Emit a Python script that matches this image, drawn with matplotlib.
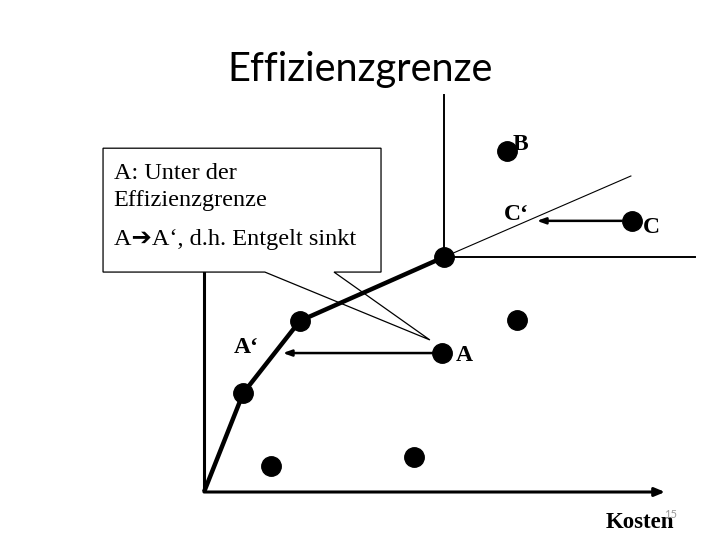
import matplotlib
matplotlib.use("Agg")
import matplotlib.pyplot as plt
from matplotlib.patches import Polygon

# ---- data (Kosten on x, Leistung on y, arbitrary units) ----
frontier_x = [0, 8.5, 20.8, 52.1]
frontier_y = [0, 24.9, 43.1, 59.2]
frontier_dots_x = [8.5, 20.8, 52.1]
frontier_dots_y = [24.9, 43.1, 59.2]

other_x = [65.7, 92.8, 51.6, 67.9, 14.5, 45.6]
other_y = [85.9, 68.3, 35.0, 43.3, 6.5, 8.8]

point_labels = ["B", "C", "A"]
label_x = [67.0, 95.3, 54.7]
label_y = [87.5, 66.5, 34.5]

moves_from_x = [49.5, 90.6]
moves_to_x = [17.1, 72.2]
moves_y = [35.0, 68.3]
moved_labels = ["A‘", "C‘"]
moved_label_x = [6.4, 65.0]

edge_top_y = 100.0
edge_right_x = 106.5
diag_end = (92.6, 79.6)

title = "Effizienzgrenze"
box_lines = ["A: Unter der", "Effizienzgrenze", "A\u2794A‘, d.h. Entgelt sinkt"]
xlabel = "Kosten"
page_no = "15"

# ---- figure ----
W, H = 720, 540
fig = plt.figure(figsize=(7.2, 5.4), dpi=100)
fig.patch.set_facecolor("white")
x0, y0, x1, y1 = 204, 492, 665, 95
ax = fig.add_axes([x0 / W, (H - y0) / H, (x1 - x0) / W, (y0 - y1) / H])
ax.set_xlim(0, 100)
ax.set_ylim(0, 100)
ax.axis("off")

serif = ["Liberation Serif", "DejaVu Sans"]

# axes
ax.annotate("", xy=(100, 0), xytext=(0, 0),
            arrowprops=dict(arrowstyle="-|>,head_length=0.6,head_width=0.25",
                            lw=2.2, color="black", shrinkA=0, shrinkB=0),
            annotation_clip=False)
ax.plot([0, 0], [0, 70], color="black", lw=2.2, clip_on=False, zorder=2,
        solid_capstyle="butt")

# callout box (covers y axis top)
bx0, by0, bx1, by1 = -21.9, 55.4, 38.4, 86.6
wb0, wb1, tip = 13.2, 28.2, (49.0, 38.3)
poly = Polygon([(bx0, by1), (bx1, by1), (bx1, by0), (wb1, by0), tip, (wb0, by0),
                (bx0, by0)], closed=True, facecolor="white", edgecolor="black",
               lw=0.9, zorder=3, clip_on=False)
ax.add_patch(poly)
ty = [80.2, 73.4, 63.6]
for t, yy in zip(box_lines, ty):
    ax.text(-19.6, yy, t, fontsize=17.5, family=serif, ha="left", va="center",
            zorder=4, clip_on=False)

# efficient edge lines
ax.plot([frontier_x[-1], frontier_x[-1]], [frontier_y[-1], edge_top_y],
        color="black", lw=1.4, zorder=2, clip_on=False)
ax.plot([frontier_x[-1], edge_right_x], [frontier_y[-1], frontier_y[-1]],
        color="black", lw=1.4, zorder=2, clip_on=False)
ax.plot([frontier_x[-1], diag_end[0]], [frontier_y[-1], diag_end[1]],
        color="black", lw=0.8, zorder=2, clip_on=False)

# frontier
ax.plot(frontier_x, frontier_y, color="black", lw=3.2, zorder=5,
        solid_capstyle="butt", clip_on=False)
ax.plot(frontier_dots_x, frontier_dots_y, "o", color="black", ms=14, zorder=6,
        clip_on=False)
ax.plot(other_x, other_y, "o", color="black", ms=14, zorder=6, clip_on=False)

# moves
for fx, tx, yy in zip(moves_from_x, moves_to_x, moves_y):
    ax.annotate("", xy=(tx, yy), xytext=(fx, yy),
                arrowprops=dict(arrowstyle="-|>,head_length=0.5,head_width=0.18",
                                lw=1.8, color="black", shrinkA=0, shrinkB=0),
                zorder=6, annotation_clip=False)

for t, xx, yy in zip(point_labels, label_x, label_y):
    ax.text(xx, yy, t, fontsize=17, family=serif, fontweight="bold",
            ha="left", va="center", clip_on=False)
for t, xx, yy in zip(moved_labels, moved_label_x, moves_y):
    ax.text(xx, yy + 1.5, t, fontsize=17, family=serif, fontweight="bold",
            ha="left", va="center", clip_on=False)

# x label & page number
fig.text(640 / W, 1 - 522 / H, xlabel, fontsize=16.5, family=serif,
         fontweight="bold", ha="center", va="center")
fig.text(671 / W, 1 - 514 / H, page_no, fontsize=8, color="#999999",
         ha="center", va="center", family="Lato")

# title
fig.text(360 / W, 1 - 69 / H, title, fontsize=28.6, family="Lato",
         ha="center", va="center")

fig.savefig("out.png", dpi=100, facecolor="white")
